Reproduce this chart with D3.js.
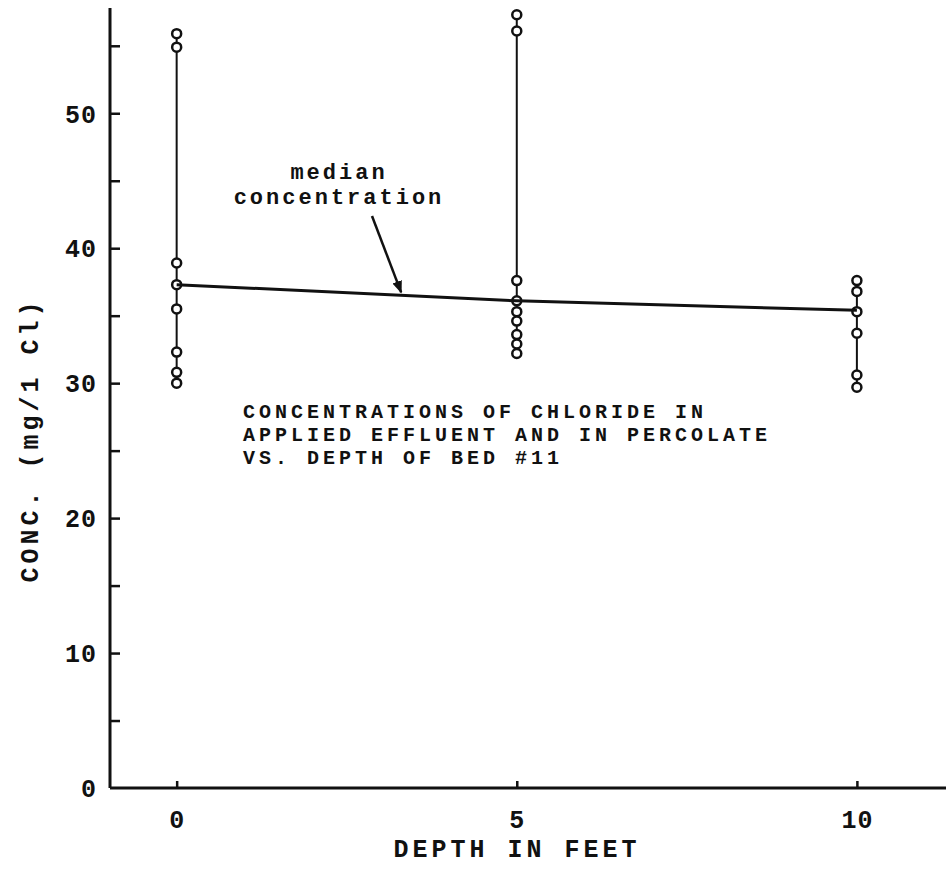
<!DOCTYPE html>
<html>
<head>
<meta charset="utf-8">
<script src="https://cdn.jsdelivr.net/npm/d3@7"></script>
<style>
    body { margin: 0; background: #fff; }
    text { font-family: "Liberation Mono", "DejaVu Sans Mono", monospace; fill: #111; font-weight: bold; }
</style>
</head>
<body>
<script>
(function(){

//pseudo-global variables
var depths = [0, 5, 10];
var conc0 = [55.9, 54.9, 38.9, 37.3, 35.5, 32.3, 30.8, 30.0];
var conc5 = [57.3, 56.1, 37.6, 36.1, 35.3, 34.6, 33.6, 32.9, 32.2];
var conc10 = [37.6, 36.8, 35.3, 33.7, 30.6, 29.7];
var medians = [37.3, 36.1, 35.4];

var yTicks = [5, 10, 15, 20, 25, 30, 35, 40, 45, 50, 55];
var yLabels = [0, 10, 20, 30, 40, 50];
var xTicks = [0, 5, 10];

var titleLines = ["CONCENTRATIONS OF CHLORIDE IN", "APPLIED EFFLUENT AND IN PERCOLATE", "VS. DEPTH OF BED #11"];
var noteLines = ["median", "concentration"];

window.onload = setChart();

//set up the chart
function setChart(){

    var width = 946,
        height = 891;

    var svg = d3.select("body")
        .append("svg")
        .attr("width", width)
        .attr("height", height);

    var x = d3.scaleLinear()
        .domain([-0.98, 11.31])
        .range([110, 946]);

    var y = d3.scaleLinear()
        .domain([0, 57.8])
        .range([788, 8]);

    //arrow head for the note
    svg.append("defs").append("marker")
        .attr("id", "head")
        .attr("viewBox", "0 0 10 10")
        .attr("refX", 9)
        .attr("refY", 5)
        .attr("markerWidth", 5)
        .attr("markerHeight", 5)
        .attr("orient", "auto")
        .append("path")
        .attr("d", "M0,1 L10,5 L0,9 Z")
        .attr("fill", "#111");

    //y axis, ticks point inward
    var yAxis = svg.append("g")
        .attr("transform", "translate(" + x.range()[0] + ",0)")
        .call(d3.axisRight(y).tickValues(yTicks).tickSize(10).tickFormat(""));
    yAxis.select(".domain").remove();

    svg.append("g")
        .attr("transform", "translate(" + x.range()[0] + ",0)")
        .call(d3.axisLeft(y).tickValues(yLabels).tickSize(0).tickPadding(13))
        .call(function(g){ g.select(".domain").remove(); })
        .selectAll("text")
        .style("font-size", "25px")
        .style("letter-spacing", "1px")
        .attr("dy", "0.35em");

    //x axis, ticks point up
    var xAxis = svg.append("g")
        .attr("transform", "translate(0," + y(0) + ")")
        .call(d3.axisTop(x).tickValues(xTicks).tickSize(7).tickFormat(""));
    xAxis.select(".domain").remove();

    svg.append("g")
        .attr("transform", "translate(0," + y(0) + ")")
        .call(d3.axisBottom(x).tickValues(xTicks).tickSize(0).tickPadding(22))
        .call(function(g){ g.select(".domain").remove(); })
        .selectAll("text")
        .style("font-size", "25px")
        .style("letter-spacing", "1px");

    svg.selectAll(".tick line")
        .attr("stroke", "#111")
        .attr("stroke-width", 2.5);

    //axis lines
    svg.append("line")
        .attr("x1", x.range()[0]).attr("x2", x.range()[0])
        .attr("y1", y.range()[1]).attr("y2", y(0))
        .attr("stroke", "#111").attr("stroke-width", 3);
    svg.append("line")
        .attr("x1", x.range()[0]).attr("x2", x.range()[1])
        .attr("y1", y(0)).attr("y2", y(0))
        .attr("stroke", "#111").attr("stroke-width", 3);

    //axis titles
    svg.append("text")
        .attr("x", 517)
        .attr("y", 857)
        .attr("text-anchor", "middle")
        .style("font-size", "25px")
        .style("letter-spacing", "4px")
        .text("DEPTH IN FEET");

    svg.append("text")
        .attr("transform", "translate(38,440) rotate(-90)")
        .attr("text-anchor", "middle")
        .style("font-size", "25px")
        .style("letter-spacing", "4px")
        .text("CONC. (mg/1 Cl)");

    //samples at each depth
    var groups = [conc0, conc5, conc10];
    groups.forEach(function(vals, i){
        var g = svg.append("g");
        g.append("line")
            .attr("x1", x(depths[i])).attr("x2", x(depths[i]))
            .attr("y1", y(d3.min(vals))).attr("y2", y(d3.max(vals)))
            .attr("stroke", "#111").attr("stroke-width", 2);
        g.selectAll("circle")
            .data(vals)
            .enter()
            .append("circle")
            .attr("cx", x(depths[i]))
            .attr("cy", function(d){ return y(d); })
            .attr("r", 4.5)
            .attr("fill", "#fff")
            .attr("stroke", "#111")
            .attr("stroke-width", 2.5);
    });

    //median line
    var line = d3.line()
        .x(function(d, i){ return x(depths[i]); })
        .y(function(d){ return y(d); });

    svg.append("path")
        .datum(medians)
        .attr("d", line)
        .attr("fill", "none")
        .attr("stroke", "#111")
        .attr("stroke-width", 3);

    //note with arrow
    svg.selectAll(".note")
        .data(noteLines)
        .enter()
        .append("text")
        .attr("class", "note")
        .attr("x", 339)
        .attr("y", function(d, i){ return 179 + i * 25; })
        .attr("text-anchor", "middle")
        .style("font-size", "22px")
        .style("letter-spacing", "3px")
        .text(function(d){ return d; });

    svg.append("line")
        .attr("x1", 372).attr("y1", 216)
        .attr("x2", x(3.3)).attr("y2", y(d3.interpolateNumber(medians[0], medians[1])(3.3 / 5)) - 3)
        .attr("stroke", "#111")
        .attr("stroke-width", 2.5)
        .attr("marker-end", "url(#head)");

    //chart title inside the plot
    svg.selectAll(".title")
        .data(titleLines)
        .enter()
        .append("text")
        .attr("class", "title")
        .attr("x", 243)
        .attr("y", function(d, i){ return 418 + i * 23; })
        .style("font-size", "20px")
        .style("letter-spacing", "4px")
        .text(function(d){ return d; });

};

})();
</script>
</body>
</html>
